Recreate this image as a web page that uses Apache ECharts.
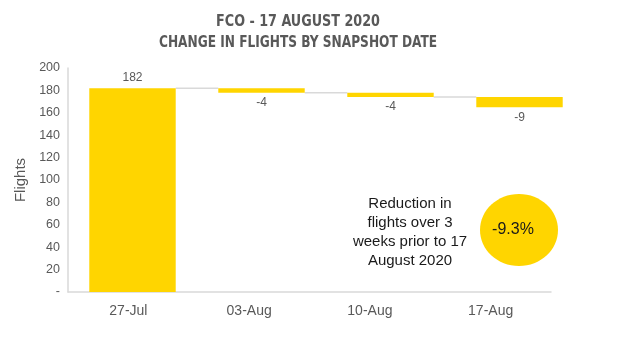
<!DOCTYPE html>
<html lang="en">
<head>
<meta charset="UTF-8">
<title>FCO waterfall</title>
<script src="https://cdn.jsdelivr.net/npm/echarts@6/dist/echarts.min.js"></script>
<style>
  html, body { margin: 0; padding: 0; background: #fff; }
  #main { width: 622px; height: 352px; }
</style>
</head>
<body>
<div id="main"></div>
<script>
// snapshot dates and change in flights vs previous snapshot
var dates = ['27-Jul', '03-Aug', '10-Aug', '17-Aug'];
var changes = [182, -4, -4, -9];
var titleLines = ['FCO - 17 AUGUST 2020', 'CHANGE IN FLIGHTS BY SNAPSHOT DATE'];
var noteText = 'Reduction in\nflights over 3\nweeks prior to 17\nAugust 2020';

var yellow = '#FFD500';
var grey = '#595959';

// waterfall: invisible base + visible step
var base = [], step = [], levels = [], running = 0;
changes.forEach(function (c, i) {
  var next = running + c;
  base.push(Math.min(running, next));
  step.push({
    value: Math.abs(c),
    label: { position: c >= 0 ? 'top' : 'bottom', formatter: String(c) }
  });
  running = next;
  levels.push([i, next]);
});
levels.pop(); // no connector after last bar
var pct = ((running - changes[0]) / changes[0] * 100).toFixed(1) + '%';

var chart = echarts.init(document.getElementById('main'));
var barRatio = 0.67;

chart.setOption({
  animation: false,
  textStyle: { fontFamily: 'Liberation Sans' },
  grid: [
    { left: 68, right: 38, top: 68, bottom: 60 },
    // the axis line + date labels sit a bit left of the bars in the original
    { left: 68, right: 71, top: 68, bottom: 60 }
  ],
  xAxis: [
    {
      type: 'category', data: dates, gridIndex: 0,
      axisLine: { show: false }, axisTick: { show: false }, axisLabel: { show: false }
    },
    {
      type: 'category', data: dates, gridIndex: 1,
      axisLine: { lineStyle: { color: '#d9d9d9', width: 1.5 } },
      axisTick: { show: false },
      axisLabel: { color: grey, fontSize: 14, margin: 12 }
    }
  ],
  yAxis: [
    {
      type: 'value', gridIndex: 0,
      min: 0, max: 200, interval: 20,
      name: 'Flights',
      nameLocation: 'middle',
      nameGap: 38,
      nameTextStyle: { color: grey, fontSize: 15 },
      axisLine: { show: true, lineStyle: { color: '#d9d9d9', width: 1.5 } },
      axisTick: { show: false },
      splitLine: { show: false },
      axisLabel: {
        color: grey, fontSize: 12.5, margin: 8,
        formatter: function (v) { return v === 0 ? '-' : v; }
      }
    },
    { type: 'value', gridIndex: 1, min: 0, max: 200, show: false }
  ],
  series: [
    {
      type: 'bar', stack: 'w', data: base,
      barWidth: (barRatio * 100) + '%',
      itemStyle: { color: 'transparent' },
      emphasis: { disabled: true }
    },
    {
      type: 'bar', stack: 'w', data: step,
      barWidth: (barRatio * 100) + '%',
      itemStyle: { color: yellow },
      label: { show: true, color: grey, fontSize: 12, distance: 4 }
    },
    {
      type: 'custom',
      data: levels,
      z: 1,
      renderItem: function (params, api) {
        var i = api.value(0), v = api.value(1);
        var p1 = api.coord([i, v]);
        var p2 = api.coord([i + 1, v]);
        var half = api.size([1, 0])[0] * barRatio / 2;
        return {
          type: 'line',
          shape: { x1: p1[0] + half, y1: p1[1], x2: p2[0] - half, y2: p2[1] },
          style: { stroke: '#d9d9d9', lineWidth: 1.5 }
        };
      }
    }
  ],
  graphic: [
    {
      type: 'text', x: 298, y: 22, scaleX: 0.86,
      style: { text: titleLines[0], textAlign: 'center', textVerticalAlign: 'middle',
        font: 'bold 16.5px "DejaVu Sans Condensed"', fill: grey }
    },
    {
      type: 'text', x: 298, y: 43, scaleX: 0.82,
      style: { text: titleLines[1], textAlign: 'center', textVerticalAlign: 'middle',
        font: 'bold 16.5px "DejaVu Sans Condensed"', fill: grey }
    },
    {
      type: 'text', x: 410, y: 194,
      style: { text: noteText, textAlign: 'center', lineHeight: 19,
        font: '15px "Liberation Sans"', fill: '#1a1a1a' }
    },
    {
      type: 'ellipse',
      shape: { cx: 519, cy: 230, rx: 39, ry: 36 },
      style: { fill: yellow }
    },
    {
      type: 'text', x: 513, y: 230,
      style: { text: pct, textAlign: 'center', textVerticalAlign: 'middle',
        font: '16px "Liberation Sans"', fill: '#1a1a1a' }
    }
  ]
});
</script>
</body>
</html>
